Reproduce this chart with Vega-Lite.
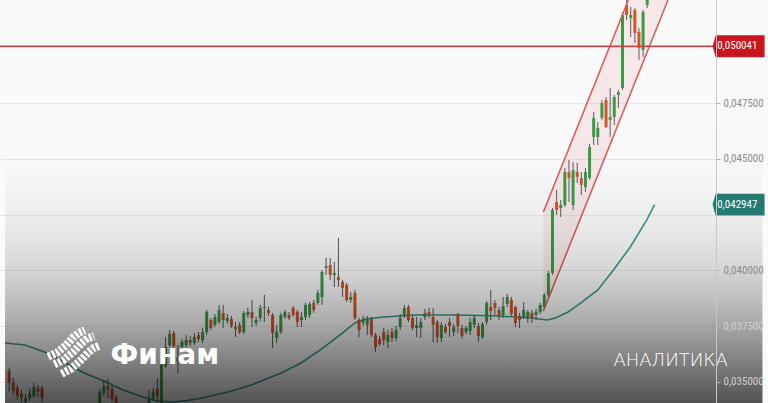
{
  "$schema": "https://vega.github.io/schema/vega-lite/v6.json",
  "width": 716,
  "height": 403,
  "autosize": "none",
  "padding": {"left": 0, "top": 0, "right": 52, "bottom": 0},
  "background": "#fafafa",
  "config": {"view": {"stroke": null}},
  "resolve": {"axis": {"y": "independent"}},
  "datasets": {
    "candles": [
      {"i":1,"o":0.035494,"h":0.035629,"l":0.034553,"c":0.034957},
      {"i":2,"o":0.034957,"h":0.035181,"l":0.034419,"c":0.034598},
      {"i":3,"o":0.034733,"h":0.034867,"l":0.034195,"c":0.034374},
      {"i":4,"o":0.034464,"h":0.034643,"l":0.034105,"c":0.034285},
      {"i":5,"o":0.034105,"h":0.034464,"l":0.033926,"c":0.034285},
      {"i":6,"o":0.034285,"h":0.034688,"l":0.034150,"c":0.034509},
      {"i":7,"o":0.034374,"h":0.034957,"l":0.034285,"c":0.034777},
      {"i":8,"o":0.034733,"h":0.034867,"l":0.034329,"c":0.034553},
      {"i":9,"o":0.034733,"h":0.034822,"l":0.034105,"c":0.034285},
      {"i":10,"o":0.033971,"h":0.034016,"l":0.033568,"c":0.033747},
      {"i":11,"o":0.033747,"h":0.033926,"l":0.033389,"c":0.033568},
      {"i":12,"o":0.033568,"h":0.033702,"l":0.033209,"c":0.033389},
      {"i":13,"o":0.033389,"h":0.033657,"l":0.033254,"c":0.033523},
      {"i":14,"o":0.033523,"h":0.033657,"l":0.033120,"c":0.033299},
      {"i":15,"o":0.033299,"h":0.033568,"l":0.033165,"c":0.033433},
      {"i":16,"o":0.033433,"h":0.033792,"l":0.033344,"c":0.033613},
      {"i":17,"o":0.033613,"h":0.033747,"l":0.033299,"c":0.033433},
      {"i":18,"o":0.033433,"h":0.033881,"l":0.033344,"c":0.033702},
      {"i":19,"o":0.033702,"h":0.033837,"l":0.033389,"c":0.033523},
      {"i":20,"o":0.033523,"h":0.033926,"l":0.033433,"c":0.033747},
      {"i":21,"o":0.033747,"h":0.033881,"l":0.033478,"c":0.033613},
      {"i":22,"o":0.033613,"h":0.033971,"l":0.033523,"c":0.033837},
      {"i":23,"o":0.033971,"h":0.034688,"l":0.033837,"c":0.034553},
      {"i":24,"o":0.034509,"h":0.035091,"l":0.034374,"c":0.034822},
      {"i":25,"o":0.034822,"h":0.035136,"l":0.034285,"c":0.034643},
      {"i":26,"o":0.034688,"h":0.034822,"l":0.034105,"c":0.034240},
      {"i":27,"o":0.034285,"h":0.034419,"l":0.033747,"c":0.033926},
      {"i":28,"o":0.033926,"h":0.034016,"l":0.033657,"c":0.033792},
      {"i":29,"o":0.033792,"h":0.033971,"l":0.033478,"c":0.033613},
      {"i":30,"o":0.033613,"h":0.033747,"l":0.033344,"c":0.033478},
      {"i":31,"o":0.033478,"h":0.033702,"l":0.033344,"c":0.033568},
      {"i":32,"o":0.033568,"h":0.033837,"l":0.033433,"c":0.033702},
      {"i":33,"o":0.033702,"h":0.033926,"l":0.033568,"c":0.033792},
      {"i":34,"o":0.033792,"h":0.034016,"l":0.033657,"c":0.033881},
      {"i":35,"o":0.033926,"h":0.034643,"l":0.033837,"c":0.034285},
      {"i":36,"o":0.034285,"h":0.034733,"l":0.034150,"c":0.034553},
      {"i":37,"o":0.034688,"h":0.035181,"l":0.034105,"c":0.034374},
      {"i":38,"o":0.033971,"h":0.035897,"l":0.033837,"c":0.035763},
      {"i":39,"o":0.035718,"h":0.037017,"l":0.035629,"c":0.036569},
      {"i":40,"o":0.036659,"h":0.037331,"l":0.036569,"c":0.037152},
      {"i":41,"o":0.037197,"h":0.037286,"l":0.036435,"c":0.036614},
      {"i":42,"o":0.036077,"h":0.036659,"l":0.035405,"c":0.035942},
      {"i":43,"o":0.036569,"h":0.036928,"l":0.036345,"c":0.036793},
      {"i":44,"o":0.036659,"h":0.037107,"l":0.036525,"c":0.036883},
      {"i":45,"o":0.036883,"h":0.037062,"l":0.036614,"c":0.036749},
      {"i":46,"o":0.036749,"h":0.037197,"l":0.036659,"c":0.037017},
      {"i":47,"o":0.037107,"h":0.037241,"l":0.036793,"c":0.036928},
      {"i":48,"o":0.036883,"h":0.037421,"l":0.036749,"c":0.037241},
      {"i":49,"o":0.037241,"h":0.038227,"l":0.037107,"c":0.038137},
      {"i":50,"o":0.037779,"h":0.037869,"l":0.037331,"c":0.037421},
      {"i":51,"o":0.037555,"h":0.038048,"l":0.037465,"c":0.037913},
      {"i":52,"o":0.037689,"h":0.038451,"l":0.037600,"c":0.038227},
      {"i":53,"o":0.038093,"h":0.038451,"l":0.037421,"c":0.037779},
      {"i":54,"o":0.037734,"h":0.038048,"l":0.037600,"c":0.037869},
      {"i":55,"o":0.037824,"h":0.037958,"l":0.037421,"c":0.037510},
      {"i":56,"o":0.037376,"h":0.037689,"l":0.037017,"c":0.037465},
      {"i":57,"o":0.037555,"h":0.037689,"l":0.037152,"c":0.037241},
      {"i":58,"o":0.037241,"h":0.038182,"l":0.037152,"c":0.038093},
      {"i":59,"o":0.038003,"h":0.038317,"l":0.037869,"c":0.038137},
      {"i":60,"o":0.038137,"h":0.038675,"l":0.037465,"c":0.037869},
      {"i":61,"o":0.037645,"h":0.037913,"l":0.037510,"c":0.037779},
      {"i":62,"o":0.037869,"h":0.038451,"l":0.037734,"c":0.038317},
      {"i":63,"o":0.038317,"h":0.038899,"l":0.037689,"c":0.038361},
      {"i":64,"o":0.038227,"h":0.038361,"l":0.037958,"c":0.038093},
      {"i":65,"o":0.038003,"h":0.038093,"l":0.036525,"c":0.037197},
      {"i":66,"o":0.036972,"h":0.037555,"l":0.036749,"c":0.037241},
      {"i":67,"o":0.037241,"h":0.038093,"l":0.037152,"c":0.038003},
      {"i":68,"o":0.037913,"h":0.038227,"l":0.037824,"c":0.038137},
      {"i":69,"o":0.038003,"h":0.038137,"l":0.037779,"c":0.037869},
      {"i":70,"o":0.038317,"h":0.038406,"l":0.037913,"c":0.038003},
      {"i":71,"o":0.038137,"h":0.038227,"l":0.037465,"c":0.037689},
      {"i":72,"o":0.037779,"h":0.038137,"l":0.037465,"c":0.037913},
      {"i":73,"o":0.037913,"h":0.038541,"l":0.037779,"c":0.038451},
      {"i":74,"o":0.038003,"h":0.038585,"l":0.037869,"c":0.038496},
      {"i":75,"o":0.038541,"h":0.038675,"l":0.038093,"c":0.038227},
      {"i":76,"o":0.038541,"h":0.039123,"l":0.038451,"c":0.038989},
      {"i":77,"o":0.038809,"h":0.040019,"l":0.038451,"c":0.039929},
      {"i":78,"o":0.040109,"h":0.040557,"l":0.039794,"c":0.040198},
      {"i":79,"o":0.040243,"h":0.040557,"l":0.039571,"c":0.039794},
      {"i":80,"o":0.039794,"h":0.040377,"l":0.039257,"c":0.039885},
      {"i":81,"o":0.039705,"h":0.041453,"l":0.039257,"c":0.039571},
      {"i":82,"o":0.039481,"h":0.039571,"l":0.038809,"c":0.039213},
      {"i":83,"o":0.039347,"h":0.039437,"l":0.038585,"c":0.038675},
      {"i":84,"o":0.038675,"h":0.039033,"l":0.038541,"c":0.038809},
      {"i":85,"o":0.038989,"h":0.039123,"l":0.037779,"c":0.037869},
      {"i":86,"o":0.037779,"h":0.037869,"l":0.037017,"c":0.037331},
      {"i":87,"o":0.037645,"h":0.037958,"l":0.037510,"c":0.037779},
      {"i":88,"o":0.037555,"h":0.037958,"l":0.037107,"c":0.037824},
      {"i":89,"o":0.037824,"h":0.037913,"l":0.037017,"c":0.037107},
      {"i":90,"o":0.037107,"h":0.037197,"l":0.036345,"c":0.036569},
      {"i":91,"o":0.036928,"h":0.037062,"l":0.036614,"c":0.036704},
      {"i":92,"o":0.037241,"h":0.037421,"l":0.036659,"c":0.036883},
      {"i":93,"o":0.036793,"h":0.037331,"l":0.036525,"c":0.037107},
      {"i":94,"o":0.037241,"h":0.037421,"l":0.036793,"c":0.036972},
      {"i":95,"o":0.036972,"h":0.037510,"l":0.036838,"c":0.037331},
      {"i":96,"o":0.037465,"h":0.038048,"l":0.037331,"c":0.037869},
      {"i":97,"o":0.038003,"h":0.038451,"l":0.037869,"c":0.038317},
      {"i":98,"o":0.038361,"h":0.038451,"l":0.037689,"c":0.037779},
      {"i":99,"o":0.037869,"h":0.038003,"l":0.037331,"c":0.037421},
      {"i":100,"o":0.037421,"h":0.037913,"l":0.037017,"c":0.037555},
      {"i":101,"o":0.037421,"h":0.037869,"l":0.036972,"c":0.037689},
      {"i":102,"o":0.037913,"h":0.038272,"l":0.037779,"c":0.038093},
      {"i":103,"o":0.038137,"h":0.038317,"l":0.037869,"c":0.038003},
      {"i":104,"o":0.037913,"h":0.038317,"l":0.036793,"c":0.037555},
      {"i":105,"o":0.037689,"h":0.037779,"l":0.036749,"c":0.037017},
      {"i":106,"o":0.036972,"h":0.037689,"l":0.036793,"c":0.037555},
      {"i":107,"o":0.037465,"h":0.037600,"l":0.037152,"c":0.037241},
      {"i":108,"o":0.037689,"h":0.037869,"l":0.037017,"c":0.037510},
      {"i":109,"o":0.037241,"h":0.037600,"l":0.037062,"c":0.037465},
      {"i":110,"o":0.038048,"h":0.038093,"l":0.037197,"c":0.037510},
      {"i":111,"o":0.037421,"h":0.037555,"l":0.036972,"c":0.037062},
      {"i":112,"o":0.037241,"h":0.037510,"l":0.037152,"c":0.037421},
      {"i":113,"o":0.037286,"h":0.037869,"l":0.037107,"c":0.037689},
      {"i":114,"o":0.037555,"h":0.038003,"l":0.037421,"c":0.037869},
      {"i":115,"o":0.037510,"h":0.037645,"l":0.036793,"c":0.037062},
      {"i":116,"o":0.037017,"h":0.037689,"l":0.036928,"c":0.037600},
      {"i":117,"o":0.037689,"h":0.038630,"l":0.037555,"c":0.038541},
      {"i":118,"o":0.038361,"h":0.039123,"l":0.037779,"c":0.038182},
      {"i":119,"o":0.038541,"h":0.038675,"l":0.038003,"c":0.038317},
      {"i":120,"o":0.038227,"h":0.038361,"l":0.037779,"c":0.037958},
      {"i":121,"o":0.038003,"h":0.038809,"l":0.037869,"c":0.038406},
      {"i":122,"o":0.038496,"h":0.038944,"l":0.038361,"c":0.038809},
      {"i":123,"o":0.038675,"h":0.038809,"l":0.037958,"c":0.038048},
      {"i":124,"o":0.038361,"h":0.038406,"l":0.037465,"c":0.037645},
      {"i":125,"o":0.037958,"h":0.038093,"l":0.037421,"c":0.037779},
      {"i":126,"o":0.037913,"h":0.038585,"l":0.037824,"c":0.038227},
      {"i":127,"o":0.037913,"h":0.038227,"l":0.037645,"c":0.038137},
      {"i":128,"o":0.038093,"h":0.038227,"l":0.037645,"c":0.037869},
      {"i":129,"o":0.038003,"h":0.038272,"l":0.037779,"c":0.038137},
      {"i":130,"o":0.038137,"h":0.038541,"l":0.038048,"c":0.038451},
      {"i":131,"o":0.038361,"h":0.038989,"l":0.038272,"c":0.038899},
      {"i":132,"o":0.038899,"h":0.039974,"l":0.038809,"c":0.039885},
      {"i":133,"o":0.039885,"h":0.042797,"l":0.039794,"c":0.042707},
      {"i":134,"o":0.043065,"h":0.043603,"l":0.042483,"c":0.042707},
      {"i":135,"o":0.042797,"h":0.043155,"l":0.042393,"c":0.042931},
      {"i":136,"o":0.042931,"h":0.044589,"l":0.042841,"c":0.044409},
      {"i":137,"o":0.044409,"h":0.044947,"l":0.043065,"c":0.044141},
      {"i":138,"o":0.042931,"h":0.044857,"l":0.042707,"c":0.044499},
      {"i":139,"o":0.044409,"h":0.044813,"l":0.043917,"c":0.044185},
      {"i":140,"o":0.044141,"h":0.044409,"l":0.043379,"c":0.043827},
      {"i":141,"o":0.043737,"h":0.044589,"l":0.043513,"c":0.044409},
      {"i":142,"o":0.044141,"h":0.045664,"l":0.044051,"c":0.045529},
      {"i":143,"o":0.045977,"h":0.047097,"l":0.045619,"c":0.046829},
      {"i":144,"o":0.045977,"h":0.046649,"l":0.045619,"c":0.046381},
      {"i":145,"o":0.046829,"h":0.047635,"l":0.046739,"c":0.047501},
      {"i":146,"o":0.047635,"h":0.047769,"l":0.046381,"c":0.046425},
      {"i":147,"o":0.046739,"h":0.048173,"l":0.045977,"c":0.046873},
      {"i":148,"o":0.046873,"h":0.047859,"l":0.046515,"c":0.047769},
      {"i":149,"o":0.047859,"h":0.048083,"l":0.047276,"c":0.047993},
      {"i":150,"o":0.048173,"h":0.051577,"l":0.048083,"c":0.051443},
      {"i":151,"o":0.051891,"h":0.052249,"l":0.051219,"c":0.051443},
      {"i":152,"o":0.051309,"h":0.051801,"l":0.050457,"c":0.051443},
      {"i":153,"o":0.051667,"h":0.051757,"l":0.050189,"c":0.050637},
      {"i":154,"o":0.050681,"h":0.050861,"l":0.049427,"c":0.049965},
      {"i":155,"o":0.049875,"h":0.051667,"l":0.049562,"c":0.051577},
      {"i":156,"o":0.051891,"h":0.052473,"l":0.051757,"c":0.052339}
    ],
    "ma": [
      {"i":0,"v":0.036749},{"i":4.8,"v":0.036659},{"i":9.6,"v":0.036345},{"i":12.0,"v":0.036122},
      {"i":14.4,"v":0.035897},{"i":19.2,"v":0.035405},{"i":24.0,"v":0.035046},{"i":28.7,"v":0.034643},
      {"i":33.5,"v":0.034329},{"i":37.1,"v":0.034150},{"i":40.7,"v":0.034105},{"i":44.3,"v":0.034172},
      {"i":47.9,"v":0.034285},{"i":55.1,"v":0.034598},{"i":59.9,"v":0.034867},{"i":67.1,"v":0.035405},
      {"i":71.9,"v":0.035853},{"i":76.6,"v":0.036435},{"i":81.4,"v":0.037107},{"i":85.0,"v":0.037645},
      {"i":87.4,"v":0.037824},{"i":92.0,"v":0.037913},{"i":99.9,"v":0.038003},{"i":110.2,"v":0.038003},
      {"i":119.8,"v":0.037958},{"i":127.9,"v":0.037869},{"i":131.7,"v":0.037779},{"i":133.7,"v":0.037869},
      {"i":136.8,"v":0.038137},{"i":139.9,"v":0.038541},{"i":144.0,"v":0.039123},{"i":147.8,"v":0.040019},
      {"i":151.9,"v":0.041049},{"i":155.9,"v":0.042259},{"i":157.8,"v":0.042947}
    ],
    "channel": [
      {"side":"upper","i":130.78,"v":0.042617},{"side":"upper","i":151.43,"v":0.052115},
      {"side":"lower","i":130.78,"v":0.038182},{"side":"lower","i":161.05,"v":0.052115}
    ],
    "channelFill": [
      {"i":130.78,"top":0.042617,"bot":0.038182},
      {"i":151.43,"top":0.052115,"bot":0.04768},
      {"i":161.05,"top":0.052115,"bot":0.052115}
    ],
    "levels": [
      {"name":"level","v":0.050041,"label":"0,050041"},
      {"name":"ma","v":0.042947,"label":"0,042947"}
    ]
  },
  "layer": [
    {
      "data": {"name": "channelFill"},
      "mark": {"type": "area", "color": "#d9534f", "opacity": 0.1},
      "encoding": {
        "x": {"field": "i", "type": "quantitative",
              "scale": {"domain": [0, 171.5], "nice": false, "zero": false},
              "axis": {"values": [0.4, 19.2, 39.2, 59.2, 79.2, 99.2, 119.2, 139.2, 159.2], "grid": true, "labels": false, "ticks": false, "domain": false, "title": null, "gridColor": "#e9e9e9", "gridWidth": 1}},
        "y": {"field": "top", "type": "quantitative",
              "scale": {"domain": [0.034059, 0.052115], "nice": false, "zero": false},
              "axis": {"orient": "right", "values": [0.035, 0.0375, 0.04, 0.0425, 0.045, 0.0475, 0.05], "grid": true, "labels": false, "ticks": false, "domain": false, "title": null, "gridColor": "#e9e9e9", "gridWidth": 1}},
        "y2": {"field": "bot"}
      }
    },
    {
      "data": {"name": "ma"},
      "mark": {"type": "line", "color": "#3d998c", "strokeWidth": 1.6},
      "encoding": {
        "x": {"field": "i", "type": "quantitative", "axis": null},
        "y": {"field": "v", "type": "quantitative", "axis": null}
      }
    },
    {
      "data": {"name": "candles"},
      "mark": {"type": "rule", "color": "#5a5a5a", "strokeWidth": 1},
      "encoding": {
        "x": {"field": "i", "type": "quantitative", "axis": null},
        "y": {"field": "l", "type": "quantitative", "axis": null},
        "y2": {"field": "h"}
      }
    },
    {
      "data": {"name": "candles"},
      "mark": {"type": "bar", "size": 3},
      "encoding": {
        "x": {"field": "i", "type": "quantitative", "axis": null},
        "y": {"field": "o", "type": "quantitative", "axis": null},
        "y2": {"field": "c"},
        "color": {"condition": {"test": "datum.c >= datum.o", "value": "#3b9a45"}, "value": "#d4552b"}
      }
    },
    {
      "data": {"name": "channel"},
      "mark": {"type": "line", "color": "#e05555", "strokeWidth": 1.5},
      "encoding": {
        "x": {"field": "i", "type": "quantitative", "axis": null},
        "y": {"field": "v", "type": "quantitative", "axis": null},
        "detail": {"field": "side"}
      }
    },
    {
      "data": {"name": "levels"},
      "transform": [{"filter": "datum.name === 'level'"}],
      "mark": {"type": "rule", "color": "#d43f3f", "strokeWidth": 1.5},
      "encoding": {
        "y": {"field": "v", "type": "quantitative", "axis": null}
      }
    },
    {
      "data": {"values": [{}]},
      "mark": {"type": "rect", "fill": {"gradient": "linear", "x1": 0, "y1": 0, "x2": 0, "y2": 1,
        "stops": [
          {"offset": 0, "color": "rgba(0,0,0,0)"},
          {"offset": 0.3, "color": "rgba(0,0,0,0)"},
          {"offset": 0.42, "color": "rgba(0,0,0,0.012)"},
          {"offset": 0.5, "color": "rgba(0,0,0,0.035)"},
          {"offset": 0.583, "color": "rgba(0,0,0,0.08)"},
          {"offset": 0.67, "color": "rgba(0,0,0,0.15)"},
          {"offset": 0.744, "color": "rgba(0,0,0,0.24)"},
          {"offset": 0.806, "color": "rgba(0,0,0,0.33)"},
          {"offset": 0.868, "color": "rgba(0,0,0,0.44)"},
          {"offset": 0.943, "color": "rgba(0,0,0,0.57)"},
          {"offset": 1, "color": "rgba(0,0,0,0.67)"}
        ]}},
      "encoding": {
        "x": {"datum": 0, "type": "quantitative", "axis": null},
        "x2": {"datum": 184},
        "y": {"datum": 0.052115, "type": "quantitative",
              "axis": {"orient": "right", "values": [0.035, 0.0375, 0.04, 0.045, 0.0475], "grid": false, "zindex": 1, "title": null,
                       "domainColor": "#c8c8c8", "domainWidth": 1, "tickColor": "#b5b5b5", "tickSize": 4, "labelPadding": 3,
                       "labelFont": "Liberation Sans Narrow, Arial Narrow, Roboto Condensed, Liberation Sans, sans-serif", "labelFontSize": 11,
                       "labelColor": {"condition": {"test": "datum.value < 0.039", "value": "#d0d0d0"}, "value": "#8a8a8a"},
                       "labelExpr": "replace(format(datum.value, '.6f'), '.', ',')",
                       "labelFlush": false, "labelOverlap": false, "labelBaseline": "middle"}},
        "y2": {"datum": 0.034059}
      }
    },
    {
      "data": {"values": [{}]},
      "mark": {"type": "point", "shape": "M-0.857,0.16L-0.55,0.02L-0.25,-0.22L0.0,-0.5L0.2,-0.66L0.4,-0.75M-0.643,0.43L-0.321,0.27L0.0,0.0L0.28,-0.3L0.5,-0.47L0.72,-0.55M-0.393,0.75L-0.071,0.58L0.25,0.3L0.52,0.02L0.72,-0.14L0.92,-0.22",
               "size": 3364, "filled": false, "stroke": "#ffffff", "strokeWidth": 8, "strokeDash": [2.8, 1.6], "strokeCap": "butt", "opacity": 1},
      "encoding": {
        "x": {"datum": 16.53, "type": "quantitative", "axis": null},
        "y": {"datum": 0.036345, "type": "quantitative", "axis": null}
      }
    },
    {
      "data": {"values": [{}]},
      "mark": {"type": "text", "text": "Финам", "font": "DejaVu Sans", "fontWeight": "bold", "fontSize": 28, "color": "#ffffff", "align": "left", "baseline": "alphabetic"},
      "encoding": {
        "x": {"datum": 25.63, "type": "quantitative", "axis": null},
        "y": {"datum": 0.035808, "type": "quantitative", "axis": null}
      }
    },
    {
      "data": {"values": [{}]},
      "mark": {"type": "text", "text": "АНАЛИТИКА", "font": "DejaVu Sans", "fontWeight": 200, "fontSize": 18, "color": "#ffffff", "align": "left", "baseline": "alphabetic"},
      "encoding": {
        "x": {"datum": 147.8, "type": "quantitative", "axis": null},
        "y": {"datum": 0.035732, "type": "quantitative", "axis": null}
      }
    },
    {
      "data": {"name": "levels"},
      "mark": {"type": "point", "shape": "M-0.88,-0.423L1,-0.423L1,0.423L-0.88,0.423L-1,0Z", "size": 2704, "filled": true, "opacity": 1, "strokeWidth": 0},
      "encoding": {
        "x": {"datum": 178.2, "type": "quantitative", "axis": null},
        "y": {"field": "v", "type": "quantitative", "axis": null},
        "color": {"field": "name", "type": "nominal", "scale": {"domain": ["level", "ma"], "range": ["#c8161e", "#237a70"]}, "legend": null}
      }
    },
    {
      "data": {"name": "levels"},
      "mark": {"type": "text", "font": "Liberation Sans Narrow, Arial Narrow, Roboto Condensed, Liberation Sans, sans-serif", "fontSize": 11, "color": "#ffffff", "align": "left", "baseline": "middle"},
      "encoding": {
        "x": {"datum": 173.0, "type": "quantitative", "axis": null},
        "y": {"field": "v", "type": "quantitative", "axis": null},
        "text": {"field": "label"}
      }
    }
  ]
}
